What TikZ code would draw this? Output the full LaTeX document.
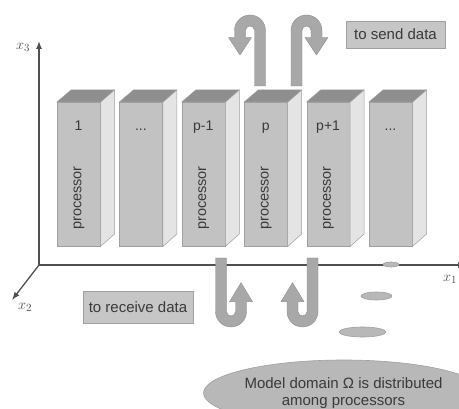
\documentclass[tikz,border=0pt]{standalone}
\usepackage{fontspec}
\setmainfont{Liberation Sans}
\usetikzlibrary{arrows.meta,shapes.geometric}
\definecolor{frontc}{HTML}{C2C2C2}
\definecolor{sidec}{HTML}{E4E4E4}
\definecolor{topc}{HTML}{8E8E8E}
\definecolor{edgec}{HTML}{A0A0A0}
\definecolor{arrowc}{HTML}{A8A8A8}
\definecolor{axisc}{HTML}{505050}
\definecolor{txtc}{HTML}{3A3A3A}
\definecolor{ellc}{HTML}{B8B8B8}
\definecolor{boxc}{HTML}{C6C6C6}
\newcommand\mydots{...}
\newcommand\uarrowpath[3]{(5.5,0) -- (5.5,-#1) arc[start angle=0,end angle=-180,radius=15.5] -- (-25.5,-#2) -- (-31.5,-#2) -- (-20,-#3) -- (-8.5,-#2) -- (-14.5,-#2) -- (-14.5,-#1) arc[start angle=180,end angle=360,radius=4.5] -- (-5.5,0) -- cycle}
\begin{document}
\begin{tikzpicture}[x=1pt,y=-1pt,
  font=\fontsize{14}{17}\selectfont,
  frontface/.style={draw=edgec,fill=frontc,line width=0.5pt,minimum width=43pt,minimum height=144pt,anchor=north west,inner sep=0pt},
  sideface/.style={draw=edgec,fill=sidec,line width=0.5pt},
  topface/.style={draw=edgec,fill=topc,line width=0.5pt},
  lbl/.style={text=txtc,inner sep=0pt},
  uarrow/.style={fill=arrowc,draw=arrowc!85!black,line width=0.4pt},
  axis/.style={draw=axisc,line width=1.3pt,-{Latex[length=8pt,width=6pt]}},
  axlbl/.style={text=axisc,font=\fontsize{15}{17}\selectfont},
  tagbox/.style={draw=edgec,fill=boxc,text=txtc,line width=0.6pt,inner sep=0pt,font=\fontsize{15}{17}\selectfont},
  domell/.style={ellipse,draw=edgec,fill=ellc,line width=0.6pt,inner sep=0pt}
]
\useasboundingbox (0,0) rectangle (459,409);
\fill[white] (0,0) rectangle (459,409);

% axes
\coordinate (O) at (39,265);
\coordinate (X3) at (39,41);
\coordinate (X1) at (466,265);
\coordinate (X2) at (12,300);
\draw[axis] (O) -- (X3);
\draw[axis] (O) -- (X1);
\draw[axis] (O) -- (X2);
\node[axlbl] (lx3) at (23,47) {$x_3$};
\node[axlbl] (lx2) at (25,307) {$x_2$};
\node[axlbl] (lx1) at (450,279) {$x_1$};

% processor columns
\foreach \i/\lab/\nm/\proc in {0/1/b1/1,1/\mydots/b2/0,2/p-1/b3/1,3/p/b4/1,4/p+1/b5/1,5/\mydots/b6/0}{
  \node[frontface] (\nm) at ({57+62.4*\i},102) {};
  \filldraw[sideface] (\nm.north east) -- ++(14,-12) -- ++(0,144) -- (\nm.south east) -- cycle;
  \filldraw[topface] (\nm.north west) -- ++(14,-12) -- ++(43,0) -- (\nm.north east) -- cycle;
  \node[lbl,anchor=base] (\nm-t) at ({57+62.4*\i+21.5},131) {\lab};
  \ifnum\proc=1
    \node[lbl,rotate=90,font=\fontsize{14.5}{17}\selectfont] (\nm-p) at ({57+62.4*\i+22},198) {processor};
  \fi
}

% send / receive arrows
\begin{scope}[shift={(260,86)}]
  \filldraw[uarrow] \uarrowpath{55.5}{48.5}{31};
\end{scope}
\begin{scope}[shift={(296.5,86)},xscale=-1]
  \filldraw[uarrow] \uarrowpath{55.5}{48.5}{31};
\end{scope}
\begin{scope}[shift={(221,258)},xscale=-1,yscale=-1]
  \filldraw[uarrow] \uarrowpath{53.5}{43.7}{24.7};
\end{scope}
\begin{scope}[shift={(312.5,258)},yscale=-1]
  \filldraw[uarrow] \uarrowpath{53.5}{43.7}{24.7};
\end{scope}

% tags
\node[tagbox,minimum width=99pt,minimum height=27pt] (send) at (395.5,34.5) {to send data};
\node[tagbox,minimum width=110pt,minimum height=32pt] (recv) at (138,307) {to receive data};

% domain ellipses
\node[domell,minimum width=16pt,minimum height=5pt] (e1) at (391,264.5) {};
\node[domell,minimum width=31pt,minimum height=8pt] (e2) at (376.5,296) {};
\node[domell,minimum width=47pt,minimum height=10pt] (e3) at (362.5,332) {};
\node[domell,minimum width=225pt,minimum height=66pt,text=txtc,align=center,font=\fontsize{15}{17}\selectfont] (dom) at (343.5,393) {Model domain Ω is distributed\\among processors};
\end{tikzpicture}
\end{document}
